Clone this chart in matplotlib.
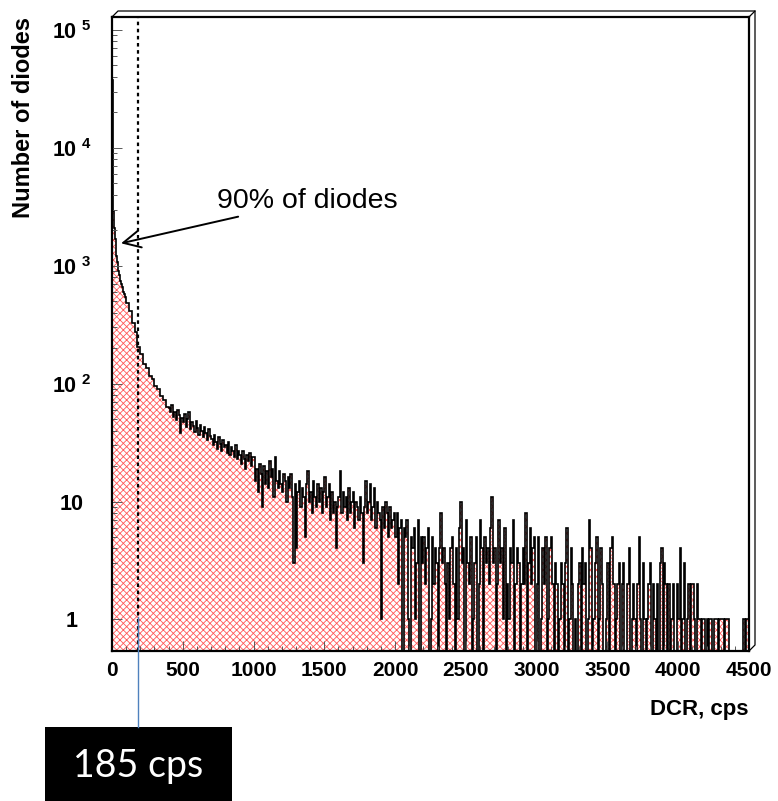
import numpy as np
import matplotlib
matplotlib.use('Agg')
import matplotlib.pyplot as plt
import matplotlib.transforms as mtransforms
from matplotlib.lines import Line2D
from matplotlib.patches import Rectangle
from matplotlib.ticker import FixedLocator, MultipleLocator, NullFormatter

plt.rcParams['font.family'] = ['Liberation Sans', 'DejaVu Sans']
plt.rcParams['mathtext.fontset'] = 'custom'
plt.rcParams['mathtext.rm'] = 'Liberation Sans'
plt.rcParams['mathtext.bf'] = 'Liberation Sans:bold'
plt.rcParams['hatch.linewidth'] = 0.6

# --- data ---
# 0 - 100 cps, 5 cps bins
head_width = 5
head_counts = [38000, 11000, 2900, 2100, 1700, 1400, 1200, 1080, 980, 900,
               840, 790, 740, 700, 660, 630, 600, 580, 560, 540]

# 100 - 400 cps, 20 cps bins
mid_width = 20
mid_counts = [
    480, 410, 330, 272, 205, 178, 148, 136, 116, 110,   # 100-300
    96, 90, 78, 72, 64,                                 # 300-400
]

# 400 - 4500 cps, 10 cps bins
tail_width = 10
tail_counts = [
    62, 58, 66, 52, 57, 49, 60, 54, 38, 51,    # 400
    47, 55, 43, 50, 58, 41, 47, 44, 39, 48,    # 500
    42, 37, 45, 40, 35, 43, 38, 33, 41, 36,    # 600
    34, 30, 37, 32, 28, 35, 31, 27, 33, 29,    # 700
    30, 26, 32, 25, 29, 27, 24, 30, 23, 27,    # 800
    25, 21, 27, 23, 19, 25, 22, 26, 20, 24,    # 900
    24, 15, 19, 12, 21, 17, 9, 20, 14, 18,     # 1000
    13, 22, 16, 19, 11, 24, 15, 13, 18, 14,    # 1100
    12, 17, 15, 10, 16, 13, 17, 11, 3, 14,     # 1200
    4, 12, 15, 9, 13, 11, 5, 14, 18, 10,       # 1300
    12, 8, 15, 11, 9, 14, 10, 13, 8, 12,       # 1400
    16, 9, 11, 14, 7, 12, 8, 10, 4, 9,         # 1500
    11, 18, 8, 12, 9, 11, 7, 13, 8, 10,        # 1600
    12, 6, 10, 9, 7, 11, 8, 3, 9, 15,          # 1700
    8, 10, 14, 7, 9, 13, 6, 10, 8, 7,          # 1800
    1, 9, 6, 10, 8, 5, 9, 6, 7, 8,             # 1900
    5, 8, 2, 6, 7, 0, 6, 5, 7, 1,              # 2000
    0, 5, 4, 6, 1, 3, 7, 0, 5, 3,              # 2100
    5, 2, 4, 6, 0, 1, 5, 2, 4, 3,              # 2200
    0, 4, 8, 3, 4, 2, 0, 3, 1, 4,              # 2300
    5, 2, 0, 4, 1, 6, 10, 3, 4, 0,             # 2400
    7, 3, 2, 5, 0, 1, 3, 5, 0, 2,              # 2500
    7, 4, 0, 5, 3, 4, 2, 6, 11, 3,             # 2600
    4, 0, 2, 7, 3, 4, 1, 6, 0, 2,              # 2700
    1, 4, 3, 7, 0, 2, 4, 3, 0, 2,              # 2800
    4, 2, 8, 0, 3, 6, 2, 4, 5, 0,              # 2900
    2, 5, 0, 1, 4, 2, 5, 0, 1, 4,              # 3000
    5, 2, 0, 3, 2, 0, 1, 3, 2, 0,              # 3100
    3, 6, 0, 1, 4, 2, 0, 1, 0, 2,              # 3200
    3, 0, 4, 2, 3, 0, 1, 7, 4, 0,              # 3300
    1, 3, 5, 0, 1, 4, 2, 0, 0, 1,              # 3400
    3, 0, 4, 5, 2, 0, 1, 2, 3, 0,              # 3500
    2, 3, 0, 0, 2, 4, 0, 1, 2, 1,              # 3600
    0, 2, 5, 1, 0, 3, 1, 0, 1, 2,              # 3700
    3, 0, 2, 1, 0, 2, 0, 3, 4, 0,              # 3800
    3, 2, 0, 2, 0, 1, 2, 0, 0, 2,              # 3900
    1, 4, 0, 1, 3, 0, 1, 2, 0, 2,              # 4000
    2, 1, 0, 2, 1, 1, 0, 1, 1, 0,              # 4100
    1, 0, 1, 1, 0, 1, 1, 1, 0, 1,              # 4200
    1, 1, 0, 1, 1, 1, 0, 0, 0, 0,              # 4300
    0, 0, 0, 0, 0, 0, 1, 0, 1, 1,              # 4400
]

cut_value = 185
xticks = [0, 500, 1000, 1500, 2000, 2500, 3000, 3500, 4000, 4500]
ytick_values = [1, 10, 100, 1000, 10000, 100000]
ytick_labels = ['1', '10', r'$\mathbf{10}^{\ \mathbf{2}}$', r'$\mathbf{10}^{\ \mathbf{3}}$',
                r'$\mathbf{10}^{\ \mathbf{4}}$', r'$\mathbf{10}^{\ \mathbf{5}}$']

# build the bin edges
head_edges = np.arange(len(head_counts) + 1) * head_width
mid_edges = head_edges[-1] + np.arange(1, len(mid_counts) + 1) * mid_width
tail_edges = mid_edges[-1] + np.arange(1, len(tail_counts) + 1) * tail_width
edges = np.concatenate([head_edges, mid_edges, tail_edges])
counts = np.array(head_counts + mid_counts + tail_counts, dtype=float)
assert edges[-1] == 4500

# empty bins drop below the axis like in ROOT
draw_counts = np.where(counts > 0, counts, 0.2)

W, H = 778, 801
fig = plt.figure(figsize=(W / 100, H / 100), dpi=100)
left, right, top, bottom = 112, 749, 17, 651
ax = fig.add_axes([left / W, 1 - bottom / H, (right - left) / W, (bottom - top) / H])

ax.stairs(draw_counts, edges, fill=True, facecolor='white', edgecolor='#ff5a5a',
          hatch='xxxxx', linewidth=0, baseline=0.2)
ax.stairs(draw_counts, edges, color='black', linewidth=1.2, baseline=0.2)

ax.set_yscale('log')
ax.set_xlim(0, 4500)
ax.set_ylim(0.54, 10 ** 5.11)

ax.axvline(cut_value, color='black', linestyle=(0, (1.6, 1.6)), linewidth=1.6)

# ticks, ROOT-like
ax.xaxis.set_major_locator(FixedLocator(xticks))
ax.set_xticklabels([str(t) for t in xticks])
ax.xaxis.set_minor_locator(MultipleLocator(100))
ax.yaxis.set_major_locator(FixedLocator(ytick_values))
ax.set_yticklabels(ytick_labels)
ax.yaxis.set_minor_locator(FixedLocator([m * 10 ** d for d in range(0, 5) for m in range(2, 10)]))
ax.yaxis.set_minor_formatter(NullFormatter())
ax.tick_params(which='both', direction='in', color='0.35', width=0.7)
ax.tick_params(which='major', length=7)
ax.tick_params(which='minor', length=3.5)
ax.tick_params(axis='x', which='major', pad=7, labelsize=15)
ax.tick_params(axis='y', which='major', pad=29, labelsize=15.5)
for lab in ax.get_xticklabels():
    lab.set_fontweight('bold')
for lab in ax.get_yticklabels():
    lab.set_fontweight('bold')
    lab.set_horizontalalignment('center')

for s in ax.spines.values():
    s.set_linewidth(1.6)

ax.set_xlabel('DCR, cps', loc='right', fontsize=16, fontweight='bold', labelpad=14)
ax.set_ylabel('Number of diodes', loc='top', fontsize=17, fontweight='bold', labelpad=12)

# 3D-looking frame edge
dx = 6 / (right - left)
dy = 6 / (bottom - top)
ax.add_line(Line2D([0, dx, 1 + dx, 1 + dx, 1], [1, 1 + dy, 1 + dy, dy, 0],
                   transform=ax.transAxes, color='black', linewidth=0.9, clip_on=False))
ax.add_line(Line2D([1, 1 + dx], [1, 1 + dy], transform=ax.transAxes,
                   color='black', linewidth=0.9, clip_on=False))

ax.annotate('90% of diodes', xy=(64, 1550), xytext=(743, 3550), fontsize=20.5,
            ha='left', va='center',
            arrowprops=dict(arrowstyle='->,head_length=0.6,head_width=0.3',
                            color='black', lw=1.4, shrinkA=0, shrinkB=0))

# callout box under the axis
trans = mtransforms.blended_transform_factory(ax.transData, fig.transFigure)
fig.add_artist(Line2D([cut_value, cut_value], [1 - 617 / H, 1 - 727 / H], transform=trans,
                      color='#4f81bd', linewidth=1.0))
fig.add_artist(Rectangle((45 / W, 0), (232 - 45) / W, (801 - 727) / H,
                         transform=fig.transFigure, facecolor='black', edgecolor='none'))
fig.text((45 + 232) / 2 / W, 1 - 766 / H, '185 cps', color='white', fontsize=27,
         family=['Lato', 'DejaVu Sans'], ha='center', va='center')

fig.savefig('out.png', dpi=100)
